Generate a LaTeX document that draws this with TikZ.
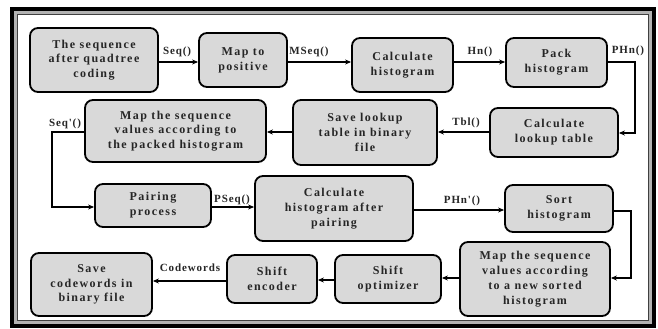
\documentclass[tikz,border=0pt]{standalone}
\usepackage{fontspec}
\setmainfont{Liberation Serif}
\newfontfamily\boxfont{Liberation Serif}[LetterSpace=12]
\newfontfamily\lblfont{Liberation Serif}[LetterSpace=8]
\usetikzlibrary{arrows.meta}
\tikzset{
  stepbox/.style={draw=black, line width=1.8pt, rounded corners=8pt, fill=gray!30,
    align=center, inner sep=0pt, text=black!85,
    font=\boxfont\bfseries\fontsize{12}{14.8}\selectfont},
  conn/.style={line width=1.5pt, -{Stealth[length=6pt,width=5pt]}},
  lbl/.style={inner sep=0pt, text=black!85, font=\lblfont\bfseries\fontsize{11}{12}\selectfont}
}
\begin{document}
\begin{tikzpicture}[x=1pt,y=-1pt]
\useasboundingbox (0,0) rectangle (658,329);
% frame
\fill[black] (10,7) rectangle (656,328);
\fill[gray!60] (14,11) rectangle (652,324);
\draw[draw=black!75, fill=white, line width=1pt] (17.5,14.5) rectangle (648.5,320.5);
% boxes
\node[stepbox, minimum width=128pt, minimum height=64pt] (b1) at (94,60) {The sequence\\after quadtree\\coding};
\node[stepbox, minimum width=88pt, minimum height=54pt] (b2) at (243,60) {Map to\\positive};
\node[stepbox, minimum width=101pt, minimum height=54pt] (b3) at (402.5,65) {Calculate\\histogram};
\node[stepbox, minimum width=101pt, minimum height=49pt] (b4) at (556.5,62.5) {Pack\\histogram};
\node[stepbox, minimum width=128pt, minimum height=49pt] (b5) at (554,132.5) {Calculate\\lookup table};
\node[stepbox, minimum width=144pt, minimum height=65pt] (b6) at (365,132.5) {Save lookup\\table in binary\\file};
\node[stepbox, minimum width=181pt, minimum height=62pt] (b7) at (175.5,131) {Map the sequence\\values according to\\the packed histogram};
\node[stepbox, minimum width=116pt, minimum height=43pt] (b8) at (153,205.5) {Pairing\\process};
\node[stepbox, minimum width=158pt, minimum height=65pt] (b9) at (334,208.5) {Calculate\\histogram after\\pairing};
\node[stepbox, minimum width=108pt, minimum height=47pt] (b10) at (559,208.5) {Sort\\histogram};
\node[stepbox, minimum width=150pt, minimum height=74pt] (b11) at (535,279) {Map the sequence\\values according\\to a new sorted\\histogram};
\node[stepbox, minimum width=106pt, minimum height=48pt] (b12) at (388,279) {Shift\\optimizer};
\node[stepbox, minimum width=90pt, minimum height=48pt] (b13) at (272,279) {Shift\\encoder};
\node[stepbox, minimum width=121pt, minimum height=63pt] (b14) at (91.5,284.5) {Save\\codewords in\\binary file};
% corner coordinates
\coordinate (c1) at (635,62);
\coordinate (c2) at (635,133);
\coordinate (c3) at (52,132);
\coordinate (c4) at (52,207);
\coordinate (c5) at (631,211);
\coordinate (c6) at (631,278);
% connectors
\draw[conn] (b1.east |- 0,62) -- (b2.west |- 0,62);
\draw[conn] (b2.east |- 0,62) -- (b3.west |- 0,62);
\draw[conn] (b3.east |- 0,62) -- (b4.west |- 0,62);
\draw[conn] (b4.east |- c1) -- (c1) -- (c2) -- (b5.east |- c2);
\draw[conn] (b5.west |- 0,132) -- (b6.east |- 0,132);
\draw[conn] (b6.west |- 0,132) -- (b7.east |- 0,132);
\draw[conn] (b7.west |- c3) -- (c3) -- (c4) -- (b8.west |- c4);
\draw[conn] (b8.east |- 0,207) -- (b9.west |- 0,207);
\draw[conn] (b9.east |- 0,210) -- (b10.west |- 0,210);
\draw[conn] (b10.east |- c5) -- (c5) -- (c6) -- (b11.east |- c6);
\draw[conn] (b11.west |- 0,278) -- (b12.east |- 0,278);
\draw[conn] (b12.west |- 0,280) -- (b13.east |- 0,280);
\draw[conn] (b13.west |- 0,281) -- (b14.east |- 0,281);
% labels
\node[lbl] (l1) at (177,52) {Seq()};
\node[lbl] (l2) at (309,52) {MSeq()};
\node[lbl] (l3) at (480,52) {Hn()};
\node[lbl] (l4) at (628,51) {PHn()};
\node[lbl] (l5) at (466,123) {Tbl()};
\node[lbl] (l6) at (65,124) {Seq'()};
\node[lbl] (l7) at (232,200) {PSeq()};
\node[lbl] (l8) at (462,201) {PHn'()};
\node[lbl] (l9) at (190,268) {Codewords};
\end{tikzpicture}
\end{document}
